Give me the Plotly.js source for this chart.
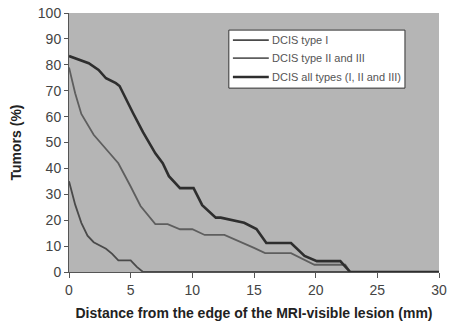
<!DOCTYPE html>
<html><head><meta charset="utf-8">
<script src="https://cdn.plot.ly/plotly-3.0.1.min.js"></script>
<style>body{margin:0;background:#fff}#c{width:451px;height:326px}</style>
</head><body><div id="c"></div>
<script>
const typeI_x = [0, 0.5, 1, 1.5, 2, 3, 3.5, 4, 5, 5.5, 6, 30];
const typeI_y = [35, 26, 19, 14, 11.5, 9, 7, 4.5, 4.5, 2, 0, 0];
const typeII_x = [0, 0.5, 1, 2, 3, 4, 5, 5.8, 7, 8, 9, 10, 11, 12.6, 15, 15.9, 18, 19.9, 22.4, 22.8, 30];
const typeII_y = [79, 69, 61, 53, 47.5, 42, 33, 25.5, 18.5, 18.5, 16.5, 16.5, 14.3, 14.3, 9.3, 7.3, 7.3, 2.8, 2.8, 0, 0];
const all_x = [0, 1.6, 2.4, 3.0, 3.8, 4.1, 5.2, 6.0, 7.0, 7.6, 8.1, 9.0, 10.1, 10.8, 11.9, 12.3, 14.2, 15.2, 16.0, 18.0, 19.1, 20.1, 22.0, 22.8, 30];
const all_y = [83.4, 80.6, 78, 74.8, 72.9, 71.8, 61.3, 54, 45.8, 42, 37, 32.4, 32.4, 25.8, 21, 21, 19, 16.6, 11.2, 11.2, 6.2, 4.2, 4.2, 0, 0];
const names = ['DCIS type I', 'DCIS type II and III', 'DCIS all types (I, II and III)'];
const colors = ['#4a4a4a', '#5e5e5e', '#2e2e2e'];
const widths = [1.8, 1.8, 2.6];
const xTicks = [0, 5, 10, 15, 20, 25, 30];
const yTicks = [0, 10, 20, 30, 40, 50, 60, 70, 80, 90, 100];

const series = [[typeI_x, typeI_y], [typeII_x, typeII_y], [all_x, all_y]];
const traces = series.map((s, i) => ({x: s[0], y: s[1], name: names[i], mode: 'lines',
  line: {color: colors[i], width: widths[i]}, showlegend: false}));

// hand-built legend box (paper coordinates)
const L = {x0: 0.432, x1: 0.908, y0: 0.71, y1: 0.934, lx0: 0.443, lx1: 0.54, tx: 0.543};
const rowY = [0.895, 0.826, 0.753];
const shapes = [{type: 'rect', xref: 'paper', yref: 'paper', x0: L.x0, x1: L.x1, y0: L.y0, y1: L.y1,
  fillcolor: '#ffffff', line: {color: '#333', width: 1}}];
const annotations = [];
names.forEach((n, i) => {
  shapes.push({type: 'line', xref: 'paper', yref: 'paper', x0: L.lx0, x1: L.lx1, y0: rowY[i], y1: rowY[i],
    line: {color: colors[i], width: widths[i]}});
  annotations.push({xref: 'paper', yref: 'paper', x: L.tx, y: rowY[i], xanchor: 'left', yanchor: 'middle',
    text: n, showarrow: false, font: {size: 11, color: '#555'}});
});

const layout = {
  width: 451, height: 326,
  margin: {l: 69, r: 12, t: 13, b: 54},
  paper_bgcolor: '#ffffff', plot_bgcolor: '#b5b5b5',
  font: {family: 'Liberation Sans, Arial, sans-serif', color: '#333'},
  showlegend: false, shapes: shapes, annotations: annotations,
  xaxis: {range: [0, 30], tickvals: xTicks, ticks: 'outside', ticklen: 5, tickcolor: '#555',
    showgrid: false, zeroline: false, showline: true, linecolor: '#555', linewidth: 1,
    tickfont: {size: 14, color: '#444'},
    title: {text: 'Distance from the edge of the MRI-visible lesion (mm)', font: {size: 14, color: '#222', weight: 'bold'}, standoff: 11}},
  yaxis: {range: [0, 100], tickvals: yTicks, ticks: 'outside', ticklen: 4, tickcolor: '#555',
    showgrid: false, zeroline: false, showline: true, linecolor: '#555', linewidth: 1,
    tickfont: {size: 14, color: '#444'},
    title: {text: 'Tumors (%)', font: {size: 14, color: '#222', weight: 'bold'}, standoff: 12}}
};
Plotly.newPlot('c', traces, layout, {displayModeBar: false});
</script></body></html>
